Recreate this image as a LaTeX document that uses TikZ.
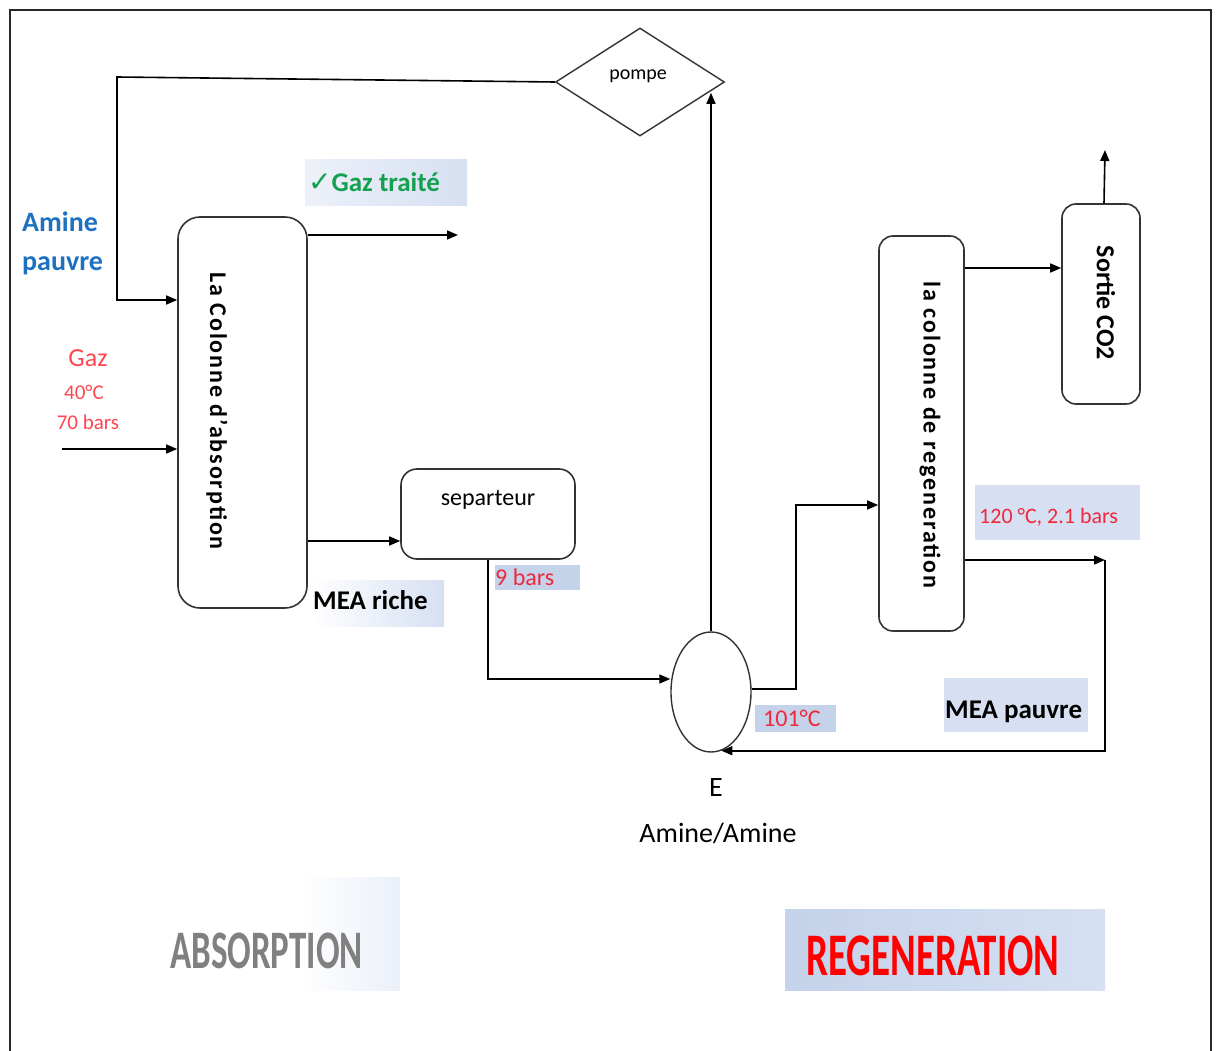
\documentclass[tikz,border=0pt]{standalone}
\usepackage{fontspec}
\setmainfont{Carlito}
\newfontfamily\symfont{DejaVu Sans}
\newfontfamily\spacedfont[LetterSpace=8, BoldFont={Carlito Bold}]{Carlito}
\usetikzlibrary{shapes.geometric,arrows.meta}

\definecolor{aminblue}{RGB}{30,112,192}
\definecolor{gazred}{RGB}{255,70,80}
\definecolor{valred}{RGB}{240,40,60}
\definecolor{okgreen}{RGB}{20,160,80}
\definecolor{absgray}{RGB}{128,128,128}
\definecolor{regred}{RGB}{255,0,0}
\definecolor{tagblue}{RGB}{214,224,242}
\definecolor{tagdeep}{RGB}{196,210,234}
\definecolor{framegray}{RGB}{40,40,40}

\tikzset{
  unit/.style={draw=black!80, line width=1.6pt, rounded corners=14pt, inner sep=0pt},
  flow/.style={line width=1.6pt, -{Triangle[length=11pt,width=9pt]}},
  tag/.style={inner sep=0pt, draw=none},
  vlabel/.style={font=\spacedfont\bfseries\fontsize{24}{24}\selectfont, rotate=-90, inner sep=0pt},
  txt/.style={inner sep=0pt},
}

\begin{document}
\begin{tikzpicture}[x=1pt,y=-1pt]
\useasboundingbox (0,0) rectangle (1216,1051);
\fill[white] (0,0) rectangle (1216,1051);

% outer frame
\draw[framegray, line width=2pt] (10,1051) -- (10,10) -- (1211,10) -- (1211,1051);

% shaded label backgrounds
\node[tag, minimum width=162, minimum height=46, left color=tagblue!45!white, right color=tagblue] (bgGaz) at (386,183) {};
\node[tag, minimum width=132, minimum height=46, left color=white, right color=tagblue] (bgRiche) at (378,603) {};
\node[tag, minimum width=85, minimum height=25, fill=tagdeep] (bgNine) at (537.5,577.5) {};
\node[tag, minimum width=81, minimum height=27, fill=tagdeep] (bgHot) at (795.5,718.5) {};
\node[tag, minimum width=165, minimum height=55, fill=tagblue] (bgRegen) at (1057.5,512.5) {};
\node[tag, minimum width=144, minimum height=54, fill=tagblue] (bgPauvre) at (1016,705) {};
\node[tag, minimum width=100, minimum height=113, left color=white, right color=tagblue!50!white] (bgAbs) at (350,933.5) {};
\node[tag, minimum width=320, minimum height=81, left color=tagdeep, right color=tagblue] (bgReg) at (945,949.5) {};

% process units
\node[unit, rounded corners=22pt, minimum width=129, minimum height=391] (abs) at (242.5,412.5) {};
\node[vlabel] (absT) at (217,411) {La Colonne d’absorption};

\node[unit, rounded corners=16pt, minimum width=174, minimum height=90] (sep) at (488,514) {};
\node[txt, font=\fontsize{24}{24}\selectfont] (sepT) at (488,500) {separteur};

\node[draw=black!80, line width=1.4pt, ellipse, minimum width=80, minimum height=120, inner sep=0pt] (exch) at (711,692) {};

\node[draw=black!80, line width=1.4pt, diamond, minimum width=169, minimum height=108, inner sep=0pt] (pompe) at (640,82) {};
\node[txt, font=\fontsize{20}{20}\selectfont] (pompeT) at (638,76) {pompe};

\node[unit, minimum width=85, minimum height=395] (regen) at (921.5,433.5) {};
\node[vlabel] (regenT) at (930,435) {la colonne de regeneration};

\node[unit, minimum width=78, minimum height=200] (sortie) at (1101,304) {};
\node[txt, rotate=-90, font=\bfseries\fontsize{26}{26}\selectfont] (sortieT) at (1106,303) {Sortie CO2};

% free ends of the lines
\coordinate (amtop) at (117,77);
\coordinate (gazin) at (62,449);
\coordinate (gazout) at (458,235);
\coordinate (co2out) at (1105,150);
\coordinate (retcorner) at (1105,560);

% flows
\draw[flow] (pompe.west) -- (amtop) |- ([yshift=112.5]abs.west);
\draw[flow] (gazin) -- ([yshift=-36.5]abs.west);
\draw[flow] ([yshift=177.5]abs.east) -- (gazout);
\draw[flow] ([yshift=-128.5]abs.east) -- ([yshift=-27]sep.west);
\draw[flow] (sep.south) |- ([yshift=13]exch.west);
\draw[flow] (exch.north) -- (exch.north |- pompe.-9);
\draw[flow] ([yshift=3]exch.east) -- ++(44,0) |- ([yshift=-71.5]regen.west);
\draw[flow] ([yshift=165.5]regen.east) -- ([yshift=36]sortie.west);
\draw[flow] ([xshift=3]sortie.north) -- (co2out);
\draw[flow] ([yshift=-126.5]regen.east) -- (retcorner);
\draw[flow] (retcorner) |- (exch.-80);

% stream labels
\node[txt, anchor=west, align=left, text=aminblue, font=\bfseries\fontsize{28}{39}\selectfont] (amineT) at (22,243) {Amine\\pauvre};
\node[txt, text=gazred, font=\fontsize{26}{26}\selectfont] (gazT) at (88,358) {Gaz};
\node[txt, text=gazred, font=\fontsize{21}{21}\selectfont] (tempT) at (84,392) {40°C};
\node[txt, text=gazred, font=\fontsize{21}{21}\selectfont] (presT) at (88,422) {70 bars};

\node[txt, anchor=west, text=okgreen, font=\bfseries\fontsize{27}{27}\selectfont] (gtT) at (308,182) {{\symfont\mdseries\fontsize{28}{28}\selectfont ✓}Gaz traité};
\node[txt, anchor=west, font=\bfseries\fontsize{27}{27}\selectfont] (richeT) at (313,600) {MEA riche};
\node[txt, anchor=west, text=valred, font=\fontsize{24}{24}\selectfont] (nineT) at (495,577) {9 bars};
\node[txt, anchor=west, text=valred, font=\fontsize{24}{24}\selectfont] (hotT) at (763,718) {101°C};
\node[txt, anchor=west, text=valred, font=\fontsize{22}{22}\selectfont] (regcT) at (979,517) {120 °C, 2.1 bars};
\node[txt, anchor=west, font=\bfseries\fontsize{27}{27}\selectfont] (pauvreT) at (945,712) {MEA pauvre};

\node[txt, font=\fontsize{28}{28}\selectfont] (eT) at (716,788) {E};
\node[txt, font=\fontsize{28}{28}\selectfont] (aaT) at (718,833) {Amine/Amine};

% section titles
\node[txt, anchor=west, transform shape, yscale=1.55, text=absgray, font=\bfseries\fontsize{35}{35}\selectfont] (absTitle) at (170,951) {ABSORPTION};
\node[txt, anchor=west, transform shape, yscale=1.55, text=regred, font=\bfseries\fontsize{39}{39}\selectfont] (regTitle) at (806,956) {REGENERATION};
\end{tikzpicture}
\end{document}
